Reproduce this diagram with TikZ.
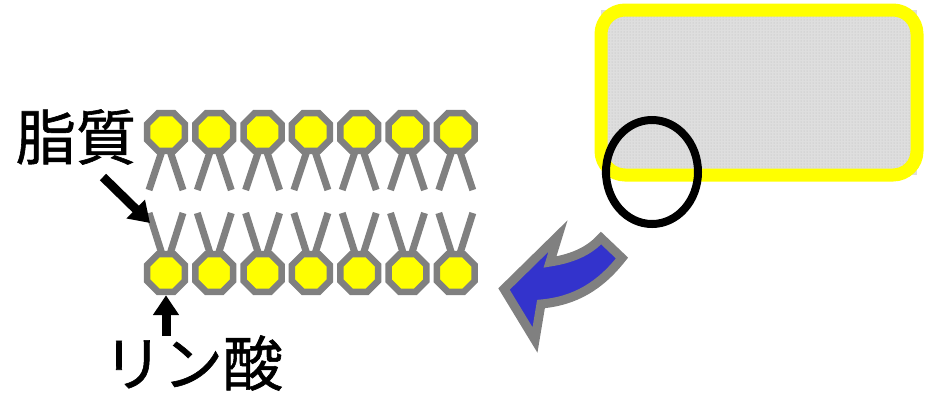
\documentclass[tikz,border=0pt]{standalone}
\usepackage{fontspec}
\newfontfamily\jpfont[FakeBold=1]{Noto Sans CJK JP}
\usetikzlibrary{calc,positioning,shapes.geometric,arrows.meta,patterns}
\definecolor{headYellow}{RGB}{255,255,0}
\definecolor{lipidGray}{RGB}{128,128,128}
\definecolor{cellGray}{RGB}{222,222,222}
\definecolor{arrowBlue}{RGB}{51,51,204}

\tikzset{
  head/.style={regular polygon,regular polygon sides=8,minimum size=41pt,
    inner sep=0pt,fill=headYellow,draw=lipidGray,line width=6.5pt},
  tail/.style={lipidGray,line width=7pt},
  pointer/.style={line width=9pt,-{Triangle[length=20pt,width=25pt]}},
  jplabel/.style={font=\jpfont\fontsize{60}{62}\selectfont,inner sep=0pt}
}

\begin{document}
\begin{tikzpicture}[x=1pt,y=-1pt]
\useasboundingbox (0,0) rectangle (932,392);

% Cell (yellow rounded box) with the zoom circle
\fill[cellGray] (601,10) rectangle (917,175);
\draw[headYellow,line width=13pt,rounded corners=24pt,pattern=dots,pattern color=gray!55]
  (601,10) rectangle (917,175);
\draw[black,line width=8pt] (652,172) ellipse (46 and 52);

% Bent blue arrow
\draw[lipidGray,fill=arrowBlue,line width=9pt,miter limit=20]
  (504,289) -- (558,236) -- (550,262)
  .. controls (576,258) and (591,249) .. (601,238)
  -- (622,258)
  .. controls (600,286) and (575,301) .. (541,304)
  -- (535,340) -- cycle;

% Bilayer: tails first, then heads on top
\foreach \i in {0,...,6} {
  \coordinate (top\i) at (166+48.3*\i,132);
  \coordinate (bot\i) at (166+48.3*\i,273);
  \draw[tail] ($(top\i)+(-4,19)$) -- ($(top\i)+(-17,58)$);
  \draw[tail] ($(top\i)+(4,19)$) -- ($(top\i)+(17,58)$);
  \draw[tail] ($(bot\i)+(-4,-19)$) -- ($(bot\i)+(-17,-60)$);
  \draw[tail] ($(bot\i)+(4,-19)$) -- ($(bot\i)+(17,-60)$);
  \node[head] (tophead\i) at (top\i) {};
  \node[head] (bothead\i) at (bot\i) {};
}

% Labels
\node[jplabel] (lipid) at (76,137) {脂質};
\node[jplabel] (phos) at (193,363) {リン酸};
\coordinate (lipidtip) at (150,223);
\coordinate (lipidtail) at (103,177);
\coordinate (phostail) at (166,336);
\draw[pointer] (lipidtail) -- (lipidtip);
\draw[pointer] (phostail) -- (bothead0.south);

\end{tikzpicture}
\end{document}
